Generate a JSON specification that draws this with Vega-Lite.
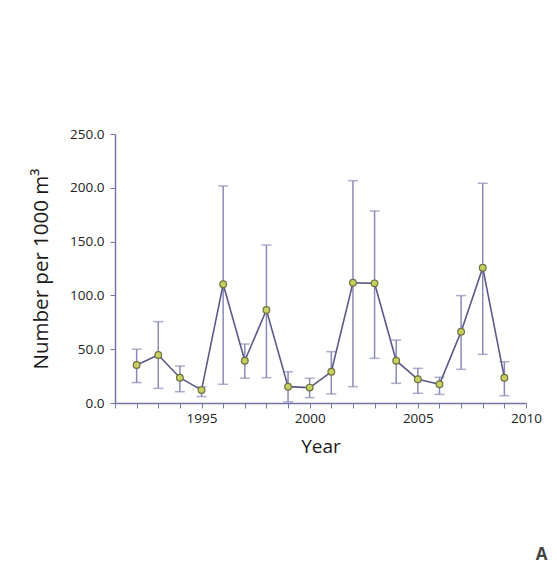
{
  "$schema": "https://vega.github.io/schema/vega-lite/v6.json",
  "width": 411,
  "height": 269,
  "autosize": {"type": "none"},
  "padding": {"left": 115, "top": 134, "right": 31, "bottom": 169},
  "background": "#ffffff",
  "title": {
    "text": "A",
    "orient": "bottom",
    "anchor": "end",
    "offset": 90,
    "dx": 6,
    "fontSize": 17,
    "fontWeight": "bold",
    "color": "#444444",
    "font": "Open Sans"
  },
  "config": {
    "view": {"stroke": null},
    "axis": {
      "domainColor": "#7676a6",
      "tickColor": "#7676a6",
      "domainWidth": 1.5,
      "tickWidth": 1,
      "labelFont": "Open Sans",
      "titleFont": "Open Sans",
      "labelColor": "#222222",
      "titleColor": "#1a1a1a",
      "labelFontSize": 13.5,
      "titleFontSize": 19,
      "titleFontWeight": "normal",
      "grid": false
    }
  },
  "data": {
    "values": [
      {"year": 1992, "mean": 35.3, "low": 19, "high": 50},
      {"year": 1993, "mean": 44.6, "low": 13.6, "high": 75.6},
      {"year": 1994, "mean": 23.5, "low": 10.5, "high": 34.4},
      {"year": 1995, "mean": 12, "low": 6, "high": 15},
      {"year": 1996, "mean": 110.3, "low": 17.4, "high": 201.7},
      {"year": 1997, "mean": 39.3, "low": 23, "high": 54.8},
      {"year": 1998, "mean": 86.4, "low": 23.5, "high": 146.8},
      {"year": 1999, "mean": 15.2, "low": 1, "high": 29},
      {"year": 2000, "mean": 14.3, "low": 5, "high": 23},
      {"year": 2001, "mean": 29, "low": 8.4, "high": 47.7},
      {"year": 2002, "mean": 111.8, "low": 15.2, "high": 206.6},
      {"year": 2003, "mean": 111.2, "low": 41.5, "high": 178.4},
      {"year": 2004, "mean": 39.3, "low": 18.3, "high": 58.5},
      {"year": 2005, "mean": 22, "low": 9, "high": 32.2},
      {"year": 2006, "mean": 17.4, "low": 8, "high": 23.9},
      {"year": 2007, "mean": 66.3, "low": 31.3, "high": 99.8},
      {"year": 2008, "mean": 125.8, "low": 45.2, "high": 204.2},
      {"year": 2009, "mean": 23.5, "low": 6.8, "high": 38.4}
    ]
  },
  "encoding": {
    "x": {
      "field": "year",
      "type": "quantitative",
      "scale": {"domain": [1991, 2010], "nice": false, "zero": false},
      "axis": {
        "title": "Year",
        "values": [1991, 1992, 1993, 1994, 1995, 1996, 1997, 1998, 1999, 2000, 2001, 2002, 2003, 2004, 2005, 2006, 2007, 2008, 2009, 2010],
        "labelExpr": "datum.value % 5 === 0 && datum.value > 1991 ? datum.value : ''",
        "format": "d",
        "tickSize": 5,
        "labelPadding": 3,
        "titlePadding": 13,
        "labelOverlap": false,
        "labelFlush": false
      }
    }
  },
  "layer": [
    {
      "mark": {"type": "rule", "color": "#8a8ab8", "strokeWidth": 1.5},
      "encoding": {
        "y": {
          "field": "low",
          "type": "quantitative",
          "scale": {"domain": [0, 250], "nice": false},
          "axis": {
            "title": "Number per 1000 m³",
            "titleFontSize": 20.5,
            "values": [0, 25, 50, 75, 100, 125, 150, 175, 200, 225, 250],
            "labelExpr": "datum.value % 50 === 0 ? format(datum.value, '.1f') : ''",
            "tickSize": 5,
            "labelPadding": 6,
            "titlePadding": 18,
            "labelOverlap": false,
            "labelFlush": false
          }
        },
        "y2": {"field": "high"}
      }
    },
    {
      "mark": {"type": "tick", "orient": "horizontal", "color": "#8a8ab8", "size": 10, "thickness": 1.5},
      "encoding": {"y": {"field": "low", "type": "quantitative"}}
    },
    {
      "mark": {"type": "tick", "orient": "horizontal", "color": "#8a8ab8", "size": 10, "thickness": 1.5},
      "encoding": {"y": {"field": "high", "type": "quantitative"}}
    },
    {
      "mark": {"type": "line", "color": "#5a5a88", "strokeWidth": 1.6},
      "encoding": {"y": {"field": "mean", "type": "quantitative"}}
    },
    {
      "mark": {"type": "point", "shape": "circle", "filled": true, "size": 45, "fill": "#c8d060", "stroke": "#6e7040", "strokeWidth": 1.2, "opacity": 1},
      "encoding": {"y": {"field": "mean", "type": "quantitative"}}
    }
  ]
}
